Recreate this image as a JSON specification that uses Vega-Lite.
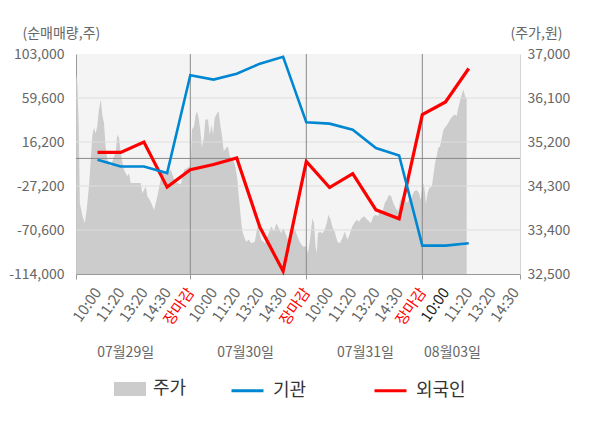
{
  "$schema": "https://vega.github.io/schema/vega-lite/v6.json",
  "width": 444,
  "height": 220,
  "autosize": {"type": "none"},
  "padding": {"left": 76, "top": 54, "right": 80, "bottom": 154},
  "background": "#ffffff",
  "config": {
    "font": "Noto Sans CJK KR",
    "view": {"fill": "#f4f4f4", "stroke": null},
    "axis": {
      "labelFont": "Noto Sans CJK KR",
      "titleFont": "Noto Sans CJK KR",
      "labelColor": "#666666",
      "titleColor": "#666666",
      "labelFontSize": 14,
      "titleFontSize": 14,
      "titleFontWeight": "normal",
      "grid": false
    },
    "legend": {"labelFont": "Noto Sans CJK KR", "labelFontSize": 18, "labelColor": "#333333"}
  },
  "datasets": {
    "price": [
      {"t":0.08,"p":36580},{"t":0.13,"p":36410},{"t":0.19,"p":35520},{"t":0.24,"p":33950},{"t":0.34,"p":33710},{"t":0.45,"p":33540},{"t":0.53,"p":33810},{"t":0.63,"p":34290},{"t":0.71,"p":34840},{"t":0.78,"p":35350},{"t":0.85,"p":35490},{"t":0.92,"p":35380},{"t":0.99,"p":35520},{"t":1.06,"p":35860},{"t":1.14,"p":36070},{"t":1.21,"p":35730},{"t":1.28,"p":35590},{"t":1.35,"p":35110},{"t":1.42,"p":34840},{"t":1.57,"p":34700},{"t":1.71,"p":34910},{"t":1.78,"p":34970},{"t":1.85,"p":35350},{"t":1.93,"p":35280},{"t":2.0,"p":34970},{"t":2.14,"p":34630},{"t":2.28,"p":34500},{"t":2.36,"p":34560},{"t":2.43,"p":34360},{"t":2.86,"p":34360},{"t":2.93,"p":34150},{"t":3.08,"p":34290},{"t":3.15,"p":34090},{"t":3.29,"p":33980},{"t":3.44,"p":33810},{"t":3.58,"p":34090},{"t":3.72,"p":34430},{"t":3.79,"p":34630},{"t":3.94,"p":34530},{"t":4.16,"p":34630},{"t":4.3,"p":34430},{"t":4.44,"p":34360},{"t":4.59,"p":34330},{"t":4.73,"p":34630},{"t":4.87,"p":34670},{"t":4.99,"p":34700},
      {"t":5.02,"p":34770},{"t":5.07,"p":35450},{"t":5.16,"p":35520},{"t":5.22,"p":35730},{"t":5.29,"p":35830},{"t":5.36,"p":35690},{"t":5.43,"p":35450},{"t":5.5,"p":35080},{"t":5.58,"p":35280},{"t":5.65,"p":35660},{"t":5.76,"p":35660},{"t":5.84,"p":35350},{"t":5.91,"p":35560},{"t":5.98,"p":35350},{"t":6.05,"p":35690},{"t":6.15,"p":35790},{"t":6.22,"p":35830},{"t":6.29,"p":35560},{"t":6.37,"p":35320},{"t":6.44,"p":35010},{"t":6.55,"p":35080},{"t":6.62,"p":35110},{"t":6.7,"p":34910},{"t":6.84,"p":34840},{"t":6.94,"p":34700},{"t":7.03,"p":34430},{"t":7.09,"p":34090},{"t":7.16,"p":33740},{"t":7.23,"p":33400},{"t":7.31,"p":33270},{"t":7.41,"p":33160},{"t":7.52,"p":33200},{"t":7.63,"p":33130},{"t":7.78,"p":33160},{"t":7.84,"p":33330},{"t":7.92,"p":33510},{"t":7.99,"p":33330},{"t":8.06,"p":33200},{"t":8.21,"p":33130},{"t":8.35,"p":33300},{"t":8.49,"p":33470},{"t":8.61,"p":33370},{"t":8.71,"p":33540},{"t":8.81,"p":33440},{"t":8.92,"p":33330},{"t":8.99,"p":33440},{"t":9.07,"p":33370},{"t":9.21,"p":33200},{"t":9.35,"p":33270},{"t":9.47,"p":33470},{"t":9.57,"p":33330},{"t":9.71,"p":33160},{"t":9.86,"p":33060},{"t":10.0,"p":33060},
      {"t":10.07,"p":32920},{"t":10.16,"p":33200},{"t":10.26,"p":33640},{"t":10.33,"p":33540},{"t":10.4,"p":33060},{"t":10.45,"p":32920},{"t":10.5,"p":33330},{"t":10.59,"p":33370},{"t":10.69,"p":33330},{"t":10.79,"p":33400},{"t":10.88,"p":33540},{"t":10.95,"p":33710},{"t":11.05,"p":33610},{"t":11.12,"p":33470},{"t":11.22,"p":33370},{"t":11.34,"p":33160},{"t":11.45,"p":33130},{"t":11.55,"p":33230},{"t":11.66,"p":33370},{"t":11.77,"p":33200},{"t":11.88,"p":33330},{"t":11.98,"p":33470},{"t":12.06,"p":33540},{"t":12.17,"p":33610},{"t":12.27,"p":33570},{"t":12.37,"p":33640},{"t":12.49,"p":33680},{"t":12.63,"p":33610},{"t":12.78,"p":33540},{"t":12.89,"p":33680},{"t":12.99,"p":33710},{"t":13.09,"p":33680},{"t":13.18,"p":33810},{"t":13.27,"p":33740},{"t":13.38,"p":33950},{"t":13.47,"p":34020},{"t":13.56,"p":34120},{"t":13.66,"p":34090},{"t":13.75,"p":33950},{"t":13.85,"p":33850},{"t":13.95,"p":33780},{"t":14.04,"p":33980},{"t":14.14,"p":34090},{"t":14.21,"p":34050},{"t":14.33,"p":33950},{"t":14.43,"p":34020},{"t":14.53,"p":34050},{"t":14.64,"p":34190},{"t":14.76,"p":34220},{"t":14.86,"p":34150},{"t":14.93,"p":34020},{"t":15.0,"p":34290},
      {"t":15.05,"p":34360},{"t":15.12,"p":34150},{"t":15.16,"p":33920},{"t":15.22,"p":34150},{"t":15.3,"p":34260},{"t":15.41,"p":34290},{"t":15.48,"p":34530},{"t":15.55,"p":34770},{"t":15.62,"p":34910},{"t":15.69,"p":35080},{"t":15.76,"p":35110},{"t":15.84,"p":35280},{"t":15.91,"p":35450},{"t":16.02,"p":35520},{"t":16.12,"p":35590},{"t":16.19,"p":35660},{"t":16.31,"p":35730},{"t":16.41,"p":35760},{"t":16.48,"p":35730},{"t":16.55,"p":35900},{"t":16.62,"p":36030},{"t":16.7,"p":36170},{"t":16.77,"p":36270},{"t":16.84,"p":36140},{"t":16.91,"p":36080}
    ],
    "flow": [
      {"t":1,"s":"외국인","v":5900},{"t":2,"s":"외국인","v":5900},{"t":3,"s":"외국인","v":16200},{"t":4,"s":"외국인","v":-28300},{"t":5,"s":"외국인","v":-11200},
      {"t":6,"s":"외국인","v":-6000},{"t":7,"s":"외국인","v":400},{"t":8,"s":"외국인","v":-68000},{"t":9,"s":"외국인","v":-111200},{"t":10,"s":"외국인","v":-3000},
      {"t":11,"s":"외국인","v":-28700},{"t":12,"s":"외국인","v":-15100},{"t":13,"s":"외국인","v":-50700},{"t":14,"s":"외국인","v":-59600},{"t":15,"s":"외국인","v":43200},
      {"t":16,"s":"외국인","v":55700},{"t":17,"s":"외국인","v":88700},
      {"t":1,"s":"기관","v":-1300},{"t":2,"s":"기관","v":-7900},{"t":3,"s":"기관","v":-8000},{"t":4,"s":"기관","v":-14400},{"t":5,"s":"기관","v":82000},
      {"t":6,"s":"기관","v":77800},{"t":7,"s":"기관","v":83500},{"t":8,"s":"기관","v":93500},{"t":9,"s":"기관","v":100200},{"t":10,"s":"기관","v":35600},
      {"t":11,"s":"기관","v":34300},{"t":12,"s":"기관","v":28400},{"t":13,"s":"기관","v":10300},{"t":14,"s":"기관","v":2950},{"t":15,"s":"기관","v":-86000},
      {"t":16,"s":"기관","v":-86000},{"t":17,"s":"기관","v":-83600}
    ],
    "hgrid": [{"g": -70600}, {"g": -27200}, {"g": 16200}, {"g": 59600}],
    "zero": [{"g": 0}],
    "days": [{"d": 5}, {"d": 10}, {"d": 15}]
  },
  "layer": [
    {
      "data": {"name": "price"},
      "mark": {"type": "area"},
      "encoding": {
        "x": {
          "field": "t", "type": "quantitative",
          "scale": {"domain": [0.073, 19.21], "nice": false, "zero": false},
          "axis": {
            "orient": "bottom", "title": null,
            "values": [0.073,1,2,3,4,5,6,7,8,9,10,11,12,13,14,15,16,17,18,19,19.21],
            "labelExpr": "datum.value < 0.5 || datum.value > 19.1 ? '' : ['장마감','10:00','11:20','13:20','14:30'][datum.value % 5]",
            "labelAngle": -55, "labelAlign": "right", "labelBaseline": "middle",
            "labelFontSize": 15, "labelPadding": 10,
            "labelOverlap": false, "labelFlush": false, "labelBound": false,
            "labelColor": {"condition": [{"test": "datum.value % 5 === 0", "value": "#ff0000"}, {"test": "datum.value === 16", "value": "#222222"}], "value": "#666666"},
            "ticks": true, "tickSize": 5, "tickColor": "#999999",
            "tickOpacity": {"condition": {"test": "datum.value % 5 === 0 || datum.value < 0.5 || datum.value > 19.1", "value": 1}, "value": 0},
            "domainColor": "#999999", "grid": false
          }
        },
        "y": {
          "field": "p", "type": "quantitative",
          "scale": {"domain": [32500, 37000], "nice": false, "zero": false},
          "axis": {
            "orient": "right",
            "values": [32500, 33400, 34300, 35200, 36100, 37000],
            "format": ",.0f", "ticks": false, "labelPadding": 7,
            "domainColor": "#d4d4d4", "grid": false,
            "title": "(주가,원)", "titleAngle": 0, "titleAlign": "left", "titleBaseline": "middle",
            "titleX": -10, "titleY": -21
          }
        },
        "y2": {"datum": 32500},
        "fill": {
          "datum": "주가", "type": "nominal",
          "scale": {"domain": ["주가"], "range": ["#cccccc"]},
          "legend": {
            "orient": "none", "legendX": 38, "legendY": 319, "direction": "horizontal",
            "title": null, "symbolType": "M-1,-0.44H1V0.44H-1Z", "symbolSize": 1024,
            "symbolStrokeWidth": 0, "labelOffset": 7
          }
        }
      }
    },
    {
      "data": {"name": "hgrid"},
      "mark": {"type": "rule", "color": "#dddddd", "strokeWidth": 1},
      "encoding": {
        "y": {"field": "g", "type": "quantitative", "scale": {"domain": [-114000, 103000], "nice": false, "zero": false}, "axis": null}
      }
    },
    {
      "data": {"name": "days"},
      "mark": {"type": "rule", "color": "#8a8a8a", "strokeWidth": 1},
      "encoding": {
        "x": {"field": "d", "type": "quantitative", "scale": {"domain": [0.073, 19.21], "nice": false, "zero": false}, "axis": null}
      }
    },
    {
      "data": {"name": "zero"},
      "mark": {"type": "rule", "color": "#8a8a8a", "strokeWidth": 1},
      "encoding": {
        "y": {"field": "g", "type": "quantitative", "scale": {"domain": [-114000, 103000], "nice": false, "zero": false}, "axis": null}
      }
    },
    {
      "data": {"name": "flow"},
      "mark": {"type": "line"},
      "encoding": {
        "x": {
          "field": "t", "type": "quantitative",
          "scale": {"domain": [0.073, 19.21], "nice": false, "zero": false},
          "axis": {
            "orient": "bottom", "title": null,
            "values": [2.19, 7.36, 12.53, 16.28],
            "labelExpr": "datum.value < 5 ? '07월29일' : datum.value < 10 ? '07월30일' : datum.value < 15 ? '07월31일' : '08월03일'",
            "labelAngle": 0, "labelAlign": "center", "labelBaseline": "top",
            "labelFontSize": 14, "labelPadding": 71, "labelColor": "#666666",
            "labelOverlap": false, "labelFlush": false, "labelBound": false,
            "ticks": false, "domain": false, "grid": false
          }
        },
        "y": {
          "field": "v", "type": "quantitative",
          "scale": {"domain": [-114000, 103000], "nice": false, "zero": false},
          "axis": {
            "orient": "left",
            "values": [-114000, -70600, -27200, 16200, 59600, 103000],
            "labelExpr": "(datum.value < 0 ? '-' : '') + format(abs(datum.value), ',.0f')",
            "ticks": false, "labelPadding": 12,
            "domainColor": "#999999", "grid": false,
            "title": "(순매매량,주)", "titleAngle": 0, "titleAlign": "left", "titleBaseline": "middle",
            "titleX": -54, "titleY": -21
          }
        },
        "stroke": {
          "field": "s", "type": "nominal",
          "scale": {"domain": ["기관", "외국인"], "range": ["#0087d2", "#ff0000"]},
          "legend": {
            "orient": "none", "legendX": 154, "legendY": 319, "direction": "horizontal",
            "title": null, "symbolType": "stroke", "symbolSize": 1024, "symbolStrokeWidth": 3,
            "labelOffset": 8, "columnPadding": 61
          }
        },
        "strokeWidth": {
          "field": "s", "type": "nominal",
          "scale": {"domain": ["기관", "외국인"], "range": [2.6, 3.2]},
          "legend": null
        }
      }
    }
  ],
  "resolve": {"scale": {"y": "independent", "stroke": "independent", "fill": "independent"}, "axis": {"x": "independent", "y": "independent"}}
}
